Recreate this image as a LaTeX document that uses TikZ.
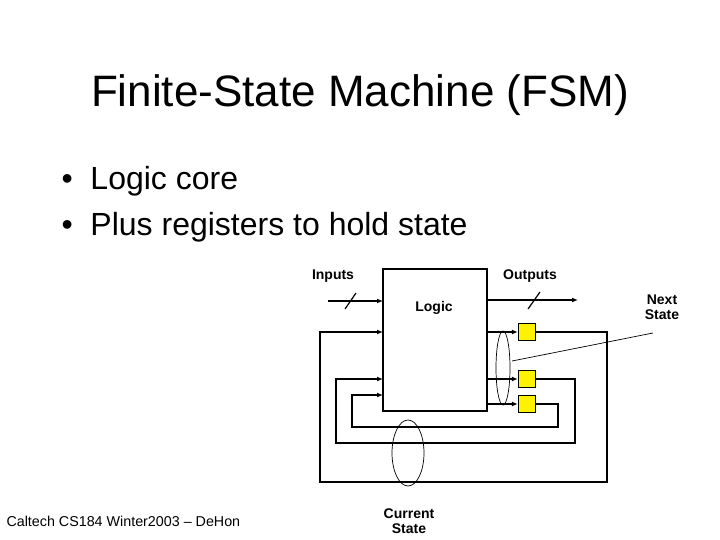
\documentclass[tikz,border=0pt]{standalone}
\usepackage{fontspec}
\setmainfont{Liberation Sans}
\usetikzlibrary{arrows.meta}
\begin{document}
\begin{tikzpicture}[x=1pt,y=-1pt,
  wire/.style={line width=2.6pt},
  arr/.style={wire,-{Latex[length=6pt,width=5pt]}},
  reg/.style={draw,line width=1.4pt,fill=yellow,minimum size=17pt,inner sep=0pt},
  lbl/.style={font=\bfseries\fontsize{14}{15}\selectfont,align=center}]
\useasboundingbox (0,0) rectangle (720,540);
\node (title) at (360,95) {\fontsize{44}{50}\selectfont Finite-State Machine (FSM)};
\node[anchor=west] (b1) at (58,181) {\fontsize{32}{36}\selectfont \textbullet\ \ Logic core};
\node[anchor=west] (b2) at (58,227) {\fontsize{32}{36}\selectfont \textbullet\ \ Plus registers to hold state};
\node[anchor=west] (foot) at (3,521) {\fontsize{14.3}{16}\selectfont Caltech CS184 Winter2003 -- DeHon};
% logic
\draw[line width=2.6pt] (383,269) rectangle (487,411);
\node[lbl] (logic) at (434,308) {Logic};
\node[lbl] (inl) at (333,276) {Inputs};
\node[lbl] (outl) at (530,276) {Outputs};
\node[lbl] (nsl) at (662,307) {Next\\State};
\node[lbl] (csl) at (409,521) {Current\\State};
\node[reg] (r1) at (527,332) {};
\node[reg] (r2) at (527,379) {};
\node[reg] (r3) at (527,404) {};
% inputs/outputs
\draw[arr] (328,301) -- (383,301);
\draw[line width=1.2pt] (345,309) -- (356,293);
\draw[arr] (487,300) -- (578,300);
\draw[line width=1.2pt] (528,309) -- (540,292);
% registers
\draw[arr] (487,332) -- (r1.west);
\draw[arr] (487,379) -- (r2.west);
\draw[arr] (487,404) -- (r3.west);
% loops
\draw[arr] (r1.east) -- (607,332) -- (607,482) -- (320,482) -- (320,332) -- (383,332);
\draw[arr] (r2.east) -- (575,379) -- (575,443) -- (336,443) -- (336,379) -- (383,379);
\draw[arr] (r3.east) -- (558,404) -- (558,427) -- (352,427) -- (352,395) -- (383,395);
% ellipses
\draw[line width=0.7pt] (503,368) ellipse (7 and 37);
\draw[line width=0.7pt] (408,453) ellipse (16 and 33);
\draw[line width=0.7pt] (512,361) -- (653,333);
\end{tikzpicture}
\end{document}
